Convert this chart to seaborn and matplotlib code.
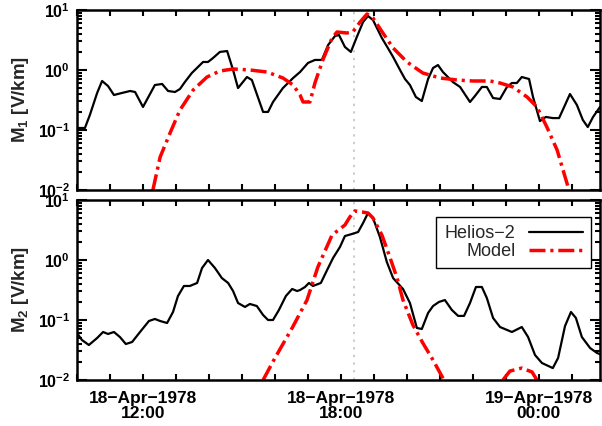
import numpy as np
import pandas as pd
import matplotlib
matplotlib.use("Agg")
import matplotlib.pyplot as plt
import matplotlib.dates as mdates
from matplotlib.ticker import LogLocator, NullFormatter, FixedFormatter, FixedLocator
from matplotlib.lines import Line2D
import seaborn as sns

# ---------------- data (hours since 18-Apr-1978 00:00, values in V/km) ----------------
m1_obs_t = [10.03, 10.24, 10.39, 10.61, 10.76, 10.94, 11.12, 11.36, 11.61, 11.76, 12.00, 12.36,
            12.58, 12.76, 12.97, 13.12, 13.27, 13.48, 13.82, 13.97, 14.12, 14.33, 14.55, 14.73,
            14.88, 15.15, 15.30, 15.48, 15.64, 15.79, 15.94, 16.24, 16.55, 16.76, 17.00, 17.21,
            17.42, 17.61, 17.82, 17.94, 18.12, 18.30, 18.48, 18.67, 18.82, 18.97, 19.24, 19.42,
            19.58, 19.79, 19.94, 20.09, 20.27, 20.45, 20.64, 20.79, 20.94, 21.09, 21.39, 21.61,
            21.91, 22.06, 22.27, 22.42, 22.61, 22.82, 23.03, 23.18, 23.33, 23.48, 23.70, 23.82,
            24.03, 24.21, 24.42, 24.61, 24.79, 24.94, 25.15, 25.33, 25.48, 25.64, 25.85]
m1_obs_v = [0.108, 0.108, 0.178, 0.414, 0.656, 0.541, 0.383, 0.414, 0.447, 0.430, 0.242, 0.562,
            0.585, 0.447, 0.430, 0.482, 0.631, 0.891, 1.36, 1.36, 1.58, 2.00, 2.07, 1.00,
            0.50, 0.764, 0.681, 0.355, 0.20, 0.20, 0.293, 0.50, 0.736, 0.926, 1.31, 1.47,
            1.47, 2.61, 3.69, 3.83, 2.42, 2.00, 3.55, 6.31, 7.94, 6.81, 3.41, 2.33,
            1.65, 1.00, 0.708, 0.562, 0.355, 0.304, 0.708, 1.08, 1.21, 0.926, 0.631, 0.521,
            0.293, 0.369, 0.521, 0.521, 0.341, 0.329, 0.521, 0.607, 0.607, 0.764, 0.708, 0.355,
            0.141, 0.165, 0.158, 0.158, 0.261, 0.398, 0.261, 0.147, 0.112, 0.165, 0.242]

m1_mod_t = [12.30, 12.52, 12.82, 13.12, 13.52, 13.94, 14.33, 14.73, 15.24, 15.76, 16.24, 16.55,
            16.76, 16.85, 17.06, 17.21, 17.45, 17.73, 17.88, 18.18, 18.36, 18.58, 18.79, 18.97,
            19.27, 19.58, 20.00, 20.48, 21.00, 21.52, 22.00, 22.52, 22.82, 23.21, 23.64, 23.94,
            24.24, 24.55, 24.73, 24.91]
m1_mod_v = [0.010, 0.0355, 0.0891, 0.215, 0.464, 0.764, 0.962, 1.04, 1.00, 0.926, 0.736, 0.562,
            0.383, 0.293, 0.293, 0.607, 1.47, 3.41, 4.30, 4.14, 4.30, 6.31, 8.58, 7.36,
            4.14, 2.33, 1.36, 0.891, 0.736, 0.681, 0.656, 0.656, 0.607, 0.521, 0.355, 0.242,
            0.112, 0.0464, 0.0215, 0.010]

m2_obs_t = [10.00, 10.15, 10.36, 10.61, 10.79, 10.94, 11.12, 11.30, 11.48, 11.67, 11.91, 12.18,
            12.36, 12.52, 12.73, 12.91, 13.06, 13.24, 13.42, 13.64, 13.79, 13.97, 14.18, 14.39,
            14.58, 14.73, 14.88, 15.09, 15.24, 15.45, 15.64, 15.79, 15.94, 16.12, 16.33, 16.52,
            16.67, 16.76, 16.91, 17.03, 17.15, 17.39, 17.58, 17.76, 17.97, 18.12, 18.33, 18.52,
            18.67, 18.82, 18.97, 19.18, 19.39, 19.58, 19.88, 20.09, 20.30, 20.45, 20.64, 20.79,
            20.97, 21.15, 21.36, 21.55, 21.73, 21.91, 22.09, 22.27, 22.42, 22.61, 22.82, 23.18,
            23.48, 23.67, 23.88, 24.09, 24.42, 24.58, 24.79, 24.97, 25.12, 25.30, 25.55, 25.76,
            25.91]
m2_obs_v = [0.0607, 0.0464, 0.0383, 0.0501, 0.0631, 0.0585, 0.0631, 0.0521, 0.0398, 0.0430, 0.0631, 0.0962,
            0.104, 0.0962, 0.0891, 0.136, 0.251, 0.369, 0.369, 0.414, 0.736, 1.00, 0.736, 0.50,
            0.414, 0.304, 0.192, 0.165, 0.185, 0.171, 0.121, 0.100, 0.100, 0.147, 0.251, 0.329,
            0.304, 0.316, 0.355, 0.414, 0.369, 0.414, 0.681, 1.08, 1.65, 2.51, 2.71, 2.93,
            4.14, 6.07, 5.01, 2.42, 0.926, 0.50, 0.329, 0.192, 0.0736, 0.0708, 0.131, 0.171,
            0.200, 0.215, 0.147, 0.117, 0.117, 0.192, 0.355, 0.355, 0.233, 0.108, 0.0764, 0.0631,
            0.0764, 0.0521, 0.0261, 0.0192, 0.0158, 0.0233, 0.0794, 0.136, 0.108, 0.0521, 0.0341, 0.0282,
            0.0261]

m2_mod_t = [15.64, 16.00, 16.52, 16.97, 17.30, 17.73, 18.12, 18.27, 18.42, 18.64, 18.82, 18.97,
            19.24, 19.48, 19.70, 19.88, 20.18, 20.48, 20.79, 21.12]
m2_mod_v = [0.010, 0.0233, 0.0736, 0.215, 0.764, 2.61, 3.83, 5.21, 6.56, 6.31, 6.07, 5.01,
            2.61, 1.12, 0.50, 0.215, 0.0825, 0.0414, 0.0215, 0.010]
m2_mod2_t = [22.91, 23.12, 23.48, 23.79, 23.94]
m2_mod2_v = [0.010, 0.0141, 0.0158, 0.0136, 0.010]

marker_hour = 18.39
x_range_hours = (10.0, 25.85)
tick_hours = [12, 18, 24]
tick_labels = ["18\u2212Apr\u22121978\n12:00", "18\u2212Apr\u22121978\n18:00", "19\u2212Apr\u22121978\n00:00"]
ylabels = [r"$\mathrm{M_1}$ [V/km]", r"$\mathrm{M_2}$ [V/km]"]
legend_labels = ["Helios\u22122", "Model"]

base = pd.Timestamp("1978-04-18 00:00")
def to_time(h):
    return base + pd.to_timedelta(np.asarray(h, dtype=float), unit="h")

# ---------------- style ----------------
sns.set_theme(style="ticks")
plt.rcParams["font.family"] = ["Liberation Sans", "DejaVu Sans"]
plt.rcParams["mathtext.fontset"] = "custom"
plt.rcParams["mathtext.rm"] = "Liberation Sans:bold"
plt.rcParams["mathtext.bf"] = "Liberation Sans:bold"
plt.rcParams["mathtext.it"] = "Liberation Sans:bold"
plt.rcParams["mathtext.default"] = "rm"

RED = "#ff0000"
DASHDOT = (0, (4.6, 1.4, 0.9, 1.4))

fig = plt.figure(figsize=(6.02, 4.26), dpi=100)
ax1 = fig.add_axes([77/602, 1-190/426, 523/602, 180/426])
ax2 = fig.add_axes([77/602, 1-380/426, 523/602, 180/426], sharex=ax1)

df1o = pd.DataFrame({"t": to_time(m1_obs_t), "v": m1_obs_v})
df1m = pd.DataFrame({"t": to_time(m1_mod_t), "v": m1_mod_v})
df2o = pd.DataFrame({"t": to_time(m2_obs_t), "v": m2_obs_v})
df2m = pd.DataFrame({"t": to_time(list(m2_mod_t) + list(m2_mod2_t)),
                     "v": list(m2_mod_v) + list(m2_mod2_v),
                     "seg": [0]*len(m2_mod_t) + [1]*len(m2_mod2_t)})

sns.lineplot(data=df1o, x="t", y="v", ax=ax1, color="black", lw=1.6)
sns.lineplot(data=df1m, x="t", y="v", ax=ax1, color=RED, lw=2.5, linestyle=DASHDOT)
sns.lineplot(data=df2o, x="t", y="v", ax=ax2, color="black", lw=1.6)
sns.lineplot(data=df2m, x="t", y="v", ax=ax2, units="seg", estimator=None,
             color=RED, lw=2.5, linestyle=DASHDOT)

for ax in (ax1, ax2):
    for l in ax.get_lines():
        l.set_dash_capstyle("butt")
    ax.axvline(to_time([marker_hour])[0], color="#bdbdbd", lw=1.1, linestyle=(0, (1.5, 3.5)), zorder=0)
    ax.set_yscale("log")
    ax.set_ylim(1e-2, 1e1)
    ax.set_xlim(to_time(x_range_hours[0:1])[0], to_time(x_range_hours[1:2])[0])
    ax.yaxis.set_major_locator(FixedLocator([1e-2, 1e-1, 1e0, 1e1]))
    ax.yaxis.set_major_formatter(FixedFormatter([r"$10^{-2}$", r"$10^{-1}$", r"$10^{0}$", r"$10^{1}$"]))
    ax.yaxis.set_minor_locator(LogLocator(base=10, subs=np.arange(2, 10)))
    ax.yaxis.set_minor_formatter(NullFormatter())
    ax.xaxis.set_major_locator(FixedLocator(mdates.date2num(to_time(tick_hours))))
    ax.xaxis.set_minor_locator(mdates.HourLocator())
    ax.tick_params(axis="both", which="both", direction="in", top=True, right=True,
                   width=1.5, colors="black", labelsize=11.5)
    ax.tick_params(axis="y", which="major", length=7, pad=5)
    ax.tick_params(axis="y", which="minor", length=3.5)
    ax.tick_params(axis="x", which="both", length=4.5)
    for s in ax.spines.values():
        s.set_linewidth(1.8)
        s.set_color("black")
    ax.set_xlabel("")
    for lab in ax.get_yticklabels():
        lab.set_fontweight("bold")

ax1.set_ylabel(ylabels[0], fontsize=13.5, fontweight="bold", labelpad=5)
ax2.set_ylabel(ylabels[1], fontsize=13.5, fontweight="bold", labelpad=5)
ax1.tick_params(axis="x", labelbottom=False)
ax2.xaxis.set_major_formatter(FixedFormatter(tick_labels))
ax2.tick_params(axis="x", which="major", pad=8, labelsize=12.5)
for lab in ax2.get_xticklabels():
    lab.set_fontweight("bold")
    lab.set_linespacing(1.0)

handles = [Line2D([], [], color="black", lw=1.6),
           Line2D([], [], color=RED, lw=2.5, linestyle=DASHDOT, dash_capstyle="butt")]
leg = ax2.legend(handles, legend_labels, loc="upper right", bbox_to_anchor=(0.983, 0.906),
                 borderaxespad=0, markerfirst=False, fancybox=False, framealpha=1,
                 edgecolor="black", fontsize=13, handlelength=3.0, handletextpad=0.75,
                 labelspacing=0.05, borderpad=0.45)
leg.get_frame().set_linewidth(1.0)

fig.savefig("out.png", dpi=100)
